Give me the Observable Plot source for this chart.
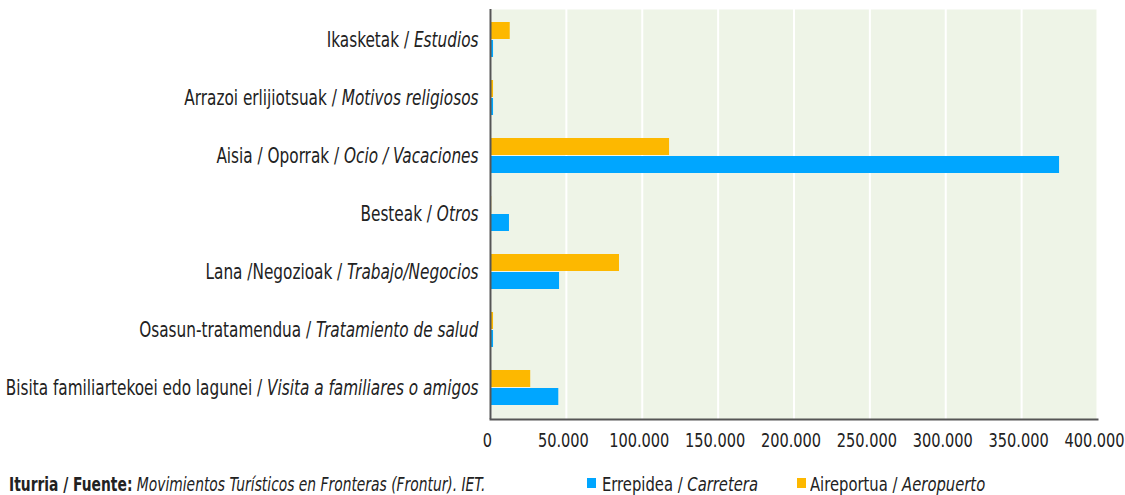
<!DOCTYPE html>
<html>
<head>
<meta charset="utf-8">
<script src="https://cdn.jsdelivr.net/npm/d3@7"></script>
<script src="https://cdn.jsdelivr.net/npm/@observablehq/plot@0.6"></script>
<style>
  html, body { margin: 0; padding: 0; background: #fff; }
  body { width: 1125px; height: 495px; overflow: hidden; position: relative;
         font-family: "DejaVu Sans Condensed", "DejaVu Sans", sans-serif; color: #222; }
  #chart { position: absolute; left: 0; top: 0; }
  #footer { position: absolute; left: 0; top: 460px; width: 1125px; height: 35px; }
  .foot { position: absolute; top: 14px; white-space: nowrap; transform: scaleX(0.81); transform-origin: 0 50%; line-height: 20px; }
  #source { left: 9px; font-size: 19px; }
  .legtxt { font-size: 20.3px; }
  .sw { position: absolute; top: 18px; width: 9px; height: 10px; }
</style>
</head>
<body>
<div id="chart"></div>
<div id="footer">
  <div class="foot" id="source"><b>Iturria / Fuente:</b> <i>Movimientos Turísticos en Fronteras (Frontur). IET.</i></div>
  <span class="sw" id="sw0" style="left:587px"></span><div class="foot legtxt" id="leg0" style="left:602px"></div>
  <span class="sw" id="sw1" style="left:797px"></span><div class="foot legtxt" id="leg1" style="left:810px"></div>
</div>
<script>
// ---- data ----
const categoriesEu = ["Ikasketak", "Arrazoi erlijiotsuak", "Aisia / Oporrak", "Besteak", "Lana /Negozioak", "Osasun-tratamendua", "Bisita familiartekoei edo lagunei"];
const categoriesEs = ["Estudios", "Motivos religiosos", "Ocio / Vacaciones", "Otros", "Trabajo/Negocios", "Tratamiento de salud", "Visita a familiares o amigos"];
const carretera  = [2000, 2000, 375000, 12500, 45500, 2000, 45000];
const aeropuerto = [13000, 2000, 118000, 800, 85000, 2000, 26500];
const seriesEu = ["Errepidea", "Aireportua"];
const seriesEs = ["Carretera", "Aeropuerto"];
const xTicks = [0, 50000, 100000, 150000, 200000, 250000, 300000, 350000, 400000];

// ---- styles ----
const BLUE = "#00A6FF", ORANGE = "#FDB800", BG = "#EEF4E7", AXIS = "#555";
const SQUEEZE = 0.81; // condensed look

const labels = categoriesEu.map((eu, i) => eu + " / " + categoriesEs[i]);
const rows = labels.map((l, i) => ({cat: l, carretera: carretera[i], aeropuerto: aeropuerto[i]}));
const fmt = d3.formatLocale({decimal: ",", thousands: ".", grouping: [3], currency: ["", "€"]}).format(",d");

const chart = Plot.plot({
  width: 1125,
  height: 460,
  marginLeft: 490,
  marginRight: 28,
  marginTop: 9,
  marginBottom: 41,
  style: {fontFamily: '"DejaVu Sans Condensed", "DejaVu Sans", sans-serif', fontSize: "20px", color: "#222", background: "#fff"},
  x: {domain: [0, 400000]},
  y: {domain: labels, paddingInner: 0.39, paddingOuter: 0.18},
  marks: [
    Plot.frame({fill: BG, stroke: null}),
    Plot.gridX(xTicks, {stroke: "#fff", strokeOpacity: 1, strokeWidth: 2}),
    Plot.barX(rows, {y: "cat", x: "aeropuerto", fill: ORANGE, insetBottom: 18}),
    Plot.barX(rows, {y: "cat", x: "carretera", fill: BLUE, insetTop: 18}),
    Plot.ruleX([0], {stroke: AXIS, strokeWidth: 2}),
    Plot.frame({anchor: "bottom", stroke: AXIS, strokeWidth: 2}),
    Plot.axisX(xTicks, {tickSize: 0, tickPadding: 13, dx: -3, tickFormat: fmt, fontSize: 20, label: null}),
    Plot.axisY({tickSize: 0, tickPadding: 12, fontSize: 21, label: null})
  ]
});
document.getElementById("chart").appendChild(chart);

// mixed roman / italic y labels
chart.querySelectorAll('g[aria-label="y-axis tick label"] text').forEach(t => {
  const i = labels.indexOf(t.textContent);
  if (i < 0) return;
  t.textContent = "";
  const a = document.createElementNS("http://www.w3.org/2000/svg", "tspan");
  a.textContent = categoriesEu[i] + " / ";
  const b = document.createElementNS("http://www.w3.org/2000/svg", "tspan");
  b.textContent = categoriesEs[i];
  b.setAttribute("font-style", "italic");
  t.appendChild(a); t.appendChild(b);
});
// condense all chart texts horizontally around their anchor
chart.querySelectorAll("text").forEach(t => {
  const tr = t.getAttribute("transform") || "";
  t.setAttribute("transform", (tr + ` scale(${SQUEEZE},1)`).trim());
});

// legend
[BLUE, ORANGE].forEach((c, i) => {
  document.getElementById("sw" + i).style.background = c;
  document.getElementById("leg" + i).innerHTML = `${seriesEu[i]} / <i>${seriesEs[i]}</i>`;
});
</script>
</body>
</html>
